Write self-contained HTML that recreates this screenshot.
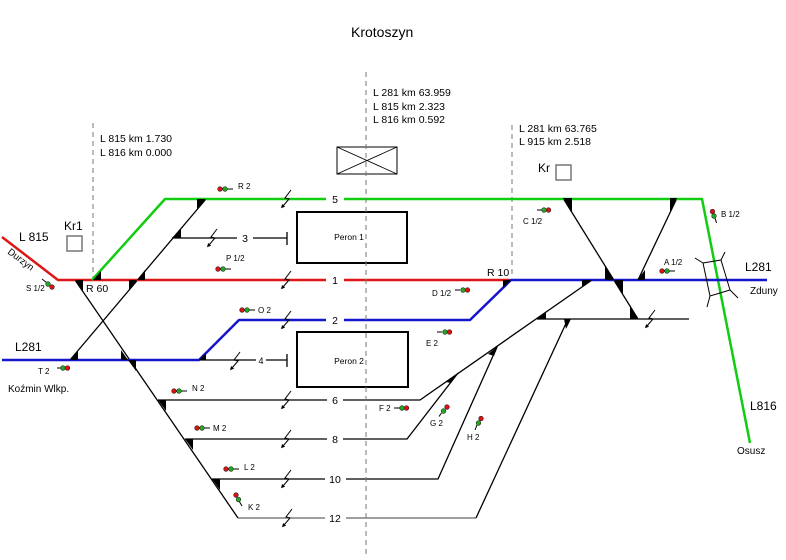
<!DOCTYPE html>
<html><head><meta charset="utf-8"><style>
html,body{margin:0;padding:0;background:#fff;}
svg{display:block;}
text{font-family:"Liberation Sans","DejaVu Sans",sans-serif;fill:#000;}
</style></head><body>
<svg width="786" height="560" viewBox="0 0 786 560" xmlns="http://www.w3.org/2000/svg">
<rect width="786" height="560" fill="#fff"/>
<defs>
<g id="iso"><path d="M5,-9 L-1,-1 L3,0 L-3,7" fill="none" stroke="#000" stroke-width="1"/><polygon points="-5,9.3 -0.9,7.6 -3.9,5" fill="#000"/></g>
</defs>

<!-- dashed lines -->
<g stroke="#777" stroke-width="1" stroke-dasharray="5,4" fill="none">
<line x1="93" y1="123" x2="93" y2="278"/>
<line x1="512" y1="125" x2="512" y2="278"/>
</g>

<!-- black tracks -->
<g stroke="#000" stroke-width="1.3" fill="none">
<line x1="70" y1="360" x2="206" y2="199"/>
<line x1="75" y1="280" x2="238" y2="518"/>
<polyline points="172,238 237,238"/><polyline points="253,238 287,238"/>
<line x1="287" y1="232" x2="287" y2="245"/>
<polyline points="199,360 256,360"/><polyline points="266,360 287,360"/>
<line x1="287" y1="354" x2="287" y2="367"/>
<polyline points="158,400 327,400"/><polyline points="343,400 420,400 592,280"/>
<polyline points="185,439 327,439"/><polyline points="343,439 407,439 458,373"/>
<polyline points="212,479 325,479"/><polyline points="346,479 438,479 497,347"/>
<line x1="537" y1="319" x2="689" y2="319"/>
<line x1="563" y1="198" x2="638" y2="319"/>
<line x1="677" y1="198" x2="638" y2="280"/>
</g>
<g stroke="#666" stroke-width="1.3" fill="none">
<polyline points="238,518 325,518"/><polyline points="346,518 476,518"/>
</g>
<line x1="476" y1="518" x2="568" y2="319" stroke="#000" stroke-width="1.3"/>

<!-- coloured lines -->
<g fill="none" stroke-width="2.5" stroke-linejoin="round">
<polyline stroke="#dd1515" points="2,237 58,280 326,280"/>
<polyline stroke="#dd1515" points="344,280 510,280"/>
<polyline stroke="#11cc11" points="92,280 165,199 326,199"/>
<polyline stroke="#11cc11" points="344,199 702,199 750,443"/>
<polyline stroke="#1515cc" points="2,360 199,360 239,320 326,320"/>
<polyline stroke="#1515cc" points="344,320 470,320 511,280 767,280"/>
</g>

<!-- switch triangles -->
<g fill="#000">
<polygon points="93,280 101,280 101,271"/>
<polygon points="75,280 83,280 83,291"/>
<polygon points="137,280 145,280 145,270"/>
<polygon points="129,280 137,280 129,290"/>
<polygon points="172,238 181,238 181,228"/>
<polygon points="197,199 206,199 197,209"/>
<polygon points="70,360 78,360 78,351"/>
<polygon points="121,360 128,360 121,350"/>
<polygon points="128,360 136,360 136,371"/>
<polygon points="199,360 206,360 206,353"/>
<polygon points="158,400 166,400 166,411"/>
<polygon points="185,439 193,439 193,450"/>
<polygon points="212,479 220,479 220,490"/>
<polygon points="503,280 511,280 503,288"/>
<polygon points="582,280 592,280 582,287"/>
<polygon points="536,319 546,319 546,312"/>
<polygon points="564,319 571,319 566,329"/>
<polygon points="458,373 446,382 451,383"/>
<polygon points="498,346 488,354 494,356"/>
<polygon points="563,198 572,198 572,212"/>
<polygon points="670,198 677,198 670,213"/>
<polygon points="605,266 605,280 614,280"/>
<polygon points="614,280 623,280 623,294"/>
<polygon points="630,306 630,319 638,319"/>
<polygon points="637,280 645,280 645,270"/>
</g>

<!-- isolation marks -->
<use href="#iso" x="286" y="199"/>
<use href="#iso" x="212" y="238"/>
<use href="#iso" x="286" y="280"/>
<use href="#iso" x="286" y="320"/>
<use href="#iso" x="235" y="361"/>
<use href="#iso" x="286" y="400"/>
<use href="#iso" x="286" y="439"/>
<use href="#iso" x="286" y="479"/>
<use href="#iso" x="287" y="518"/>
<use href="#iso" x="650" y="319"/>

<!-- platforms -->
<rect x="297" y="212" width="110" height="51" fill="#fff" stroke="#000" stroke-width="2"/>
<rect x="297" y="332" width="111" height="55" fill="#fff" stroke="#000" stroke-width="2"/>
<text x="349" y="240" font-size="8.5" text-anchor="middle">Peron 1</text>
<text x="349" y="364" font-size="8.5" text-anchor="middle">Peron 2</text>

<!-- crossing box -->
<rect x="337" y="147" width="60" height="27" fill="#fff" stroke="#000" stroke-width="1"/>
<line x1="337" y1="147" x2="397" y2="174" stroke="#000" stroke-width="0.8"/>
<line x1="337" y1="174" x2="397" y2="147" stroke="#000" stroke-width="0.8"/>

<!-- center dashed -->
<line x1="366" y1="72" x2="366" y2="556" stroke="#777" stroke-width="1" stroke-dasharray="5,4"/>

<!-- bridge -->
<g stroke="#000" stroke-width="1" fill="none">
<polygon points="703,263 721,260 730,290 710,296"/>
<line x1="703" y1="263" x2="695" y2="258"/>
<line x1="721" y1="260" x2="725" y2="252"/>
<line x1="730" y1="290" x2="738" y2="298"/>
<line x1="710" y1="296" x2="707" y2="307"/>
</g>

<!-- station squares -->
<rect x="67" y="236" width="15" height="15" fill="none" stroke="#777" stroke-width="1.5"/>
<rect x="556" y="165" width="15" height="15" fill="none" stroke="#777" stroke-width="1.5"/>

<!-- track numbers -->
<g font-size="10.5" text-anchor="middle">
<text x="335" y="203">5</text>
<text x="245" y="242">3</text>
<text x="335" y="284">1</text>
<text x="335" y="324">2</text>
<text x="261" y="364" font-size="9">4</text>
<text x="335" y="404">6</text>
<text x="335" y="443">8</text>
<text x="335" y="483">10</text>
<text x="335" y="522">12</text>
</g>

<!-- signals -->
<g stroke="#222" stroke-width="0.6">
<line x1="227" y1="189" x2="233" y2="189" stroke="#000" stroke-width="1"/>
<circle cx="220" cy="189" r="2.3" fill="#e01010"/><circle cx="225" cy="189" r="2.3" fill="#22aa22"/>
<line x1="225" y1="269" x2="231" y2="269" stroke="#000" stroke-width="1"/>
<circle cx="218" cy="269" r="2.3" fill="#e01010"/><circle cx="223" cy="269" r="2.3" fill="#22aa22"/>
<line x1="249" y1="310" x2="255" y2="310" stroke="#000" stroke-width="1"/>
<circle cx="242" cy="310" r="2.3" fill="#e01010"/><circle cx="247" cy="310" r="2.3" fill="#22aa22"/>
<line x1="181" y1="391" x2="187" y2="391" stroke="#000" stroke-width="1"/>
<circle cx="174" cy="391" r="2.3" fill="#e01010"/><circle cx="179" cy="391" r="2.3" fill="#22aa22"/>
<line x1="204" y1="428" x2="210" y2="428" stroke="#000" stroke-width="1"/>
<circle cx="197" cy="428" r="2.3" fill="#e01010"/><circle cx="202" cy="428" r="2.3" fill="#22aa22"/>
<line x1="233" y1="469" x2="239" y2="469" stroke="#000" stroke-width="1"/>
<circle cx="226" cy="469" r="2.3" fill="#e01010"/><circle cx="231" cy="469" r="2.3" fill="#22aa22"/>
<line x1="239" y1="501" x2="242" y2="506" stroke="#000" stroke-width="1"/>
<circle cx="236" cy="495" r="2.3" fill="#e01010"/><circle cx="238.5" cy="499.5" r="2.3" fill="#22aa22"/>
<line x1="57" y1="368" x2="61" y2="368" stroke="#000" stroke-width="1"/>
<circle cx="63" cy="368" r="2.3" fill="#22aa22"/><circle cx="67.5" cy="368" r="2.3" fill="#e01010"/>
<line x1="42" y1="279" x2="46.5" y2="282.5" stroke="#000" stroke-width="1"/>
<circle cx="48" cy="284" r="2.3" fill="#22aa22"/><circle cx="52" cy="287" r="2.3" fill="#e01010"/>
<line x1="537" y1="210" x2="542" y2="210" stroke="#000" stroke-width="1"/>
<circle cx="544" cy="210" r="2.3" fill="#22aa22"/><circle cx="548.5" cy="210" r="2.3" fill="#e01010"/>
<line x1="455" y1="290" x2="460" y2="290" stroke="#000" stroke-width="1"/>
<circle cx="463" cy="290" r="2.3" fill="#22aa22"/><circle cx="467.5" cy="290" r="2.3" fill="#e01010"/>
<line x1="669" y1="271" x2="675" y2="271" stroke="#000" stroke-width="1"/>
<circle cx="662" cy="271" r="2.3" fill="#e01010"/><circle cx="667" cy="271" r="2.3" fill="#22aa22"/>
<line x1="715" y1="218" x2="716.5" y2="223" stroke="#000" stroke-width="1"/>
<circle cx="712.5" cy="211.5" r="2.3" fill="#e01010"/><circle cx="714" cy="216" r="2.3" fill="#22aa22"/>
<line x1="437" y1="332" x2="442" y2="332" stroke="#000" stroke-width="1"/>
<circle cx="445" cy="332" r="2.3" fill="#22aa22"/><circle cx="449.5" cy="332" r="2.3" fill="#e01010"/>
<line x1="394" y1="408" x2="399.5" y2="408" stroke="#000" stroke-width="1"/>
<circle cx="402" cy="408" r="2.3" fill="#22aa22"/><circle cx="406.5" cy="408" r="2.3" fill="#e01010"/>
<line x1="441.5" y1="413" x2="439" y2="416.5" stroke="#000" stroke-width="1"/>
<circle cx="447" cy="407" r="2.3" fill="#e01010"/><circle cx="443.5" cy="411" r="2.3" fill="#22aa22"/>
<line x1="477" y1="425" x2="475" y2="430" stroke="#000" stroke-width="1"/>
<circle cx="481" cy="418.5" r="2.3" fill="#e01010"/><circle cx="478.5" cy="423" r="2.3" fill="#22aa22"/>
</g>

<!-- signal labels -->
<g font-size="8">
<text x="238" y="189">R 2</text>
<text x="226" y="261">P 1/2</text>
<text x="258" y="313">O 2</text>
<text x="192" y="391">N 2</text>
<text x="213" y="431">M 2</text>
<text x="244" y="470">L 2</text>
<text x="248" y="510">K 2</text>
<text x="38" y="374">T 2</text>
<text x="26" y="291">S 1/2</text>
<text x="523" y="224">C 1/2</text>
<text x="432" y="296">D 1/2</text>
<text x="664" y="265">A 1/2</text>
<text x="721" y="217">B 1/2</text>
<text x="426" y="346">E 2</text>
<text x="379" y="411">F 2</text>
<text x="430" y="426">G 2</text>
<text x="467" y="440">H 2</text>
</g>

<!-- big labels -->
<text x="351" y="37" font-size="14">Krotoszyn</text>
<g font-size="10.5">
<text x="373" y="96">L 281 km 63.959</text>
<text x="373" y="110">L 815 km 2.323</text>
<text x="373" y="123">L 816 km 0.592</text>
<text x="519" y="132">L 281 km 63.765</text>
<text x="519" y="145">L 915 km 2.518</text>
<text x="100" y="142">L 815 km 1.730</text>
<text x="100" y="156">L 816 km 0.000</text>
</g>
<text x="538" y="172" font-size="12">Kr</text>
<text x="64" y="230" font-size="12">Kr1</text>
<text x="19" y="241" font-size="12">L 815</text>
<text x="15" y="351" font-size="12">L281</text>
<text x="745" y="271" font-size="12">L281</text>
<text x="750" y="410" font-size="12">L816</text>
<text x="86" y="292" font-size="10.5">R 60</text>
<text x="487" y="276" font-size="10.5">R 10</text>
<text x="8" y="392" font-size="10">Koźmin Wlkp.</text>
<text x="750" y="294" font-size="10">Zduny</text>
<text x="737" y="454" font-size="10">Osusz</text>
<text x="0" y="0" font-size="9.5" transform="translate(7,253) rotate(37)">Durzyn</text>
</svg>
</body></html>
